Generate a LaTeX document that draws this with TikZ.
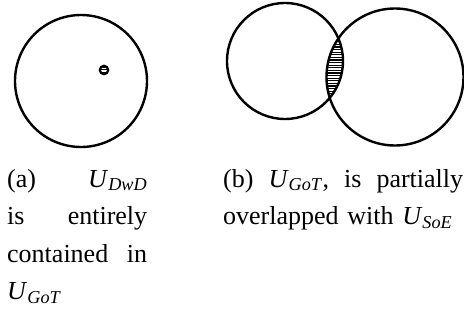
\documentclass[tikz,border=0pt]{standalone}
\usepackage{fontspec}
\setmainfont{Liberation Serif}
\newcommand{\usub}[2]{\textit{#1}\textsubscript{\textit{#2}}}

\begin{document}
\begin{tikzpicture}[x=1pt, y=1pt,
  set/.style={line width=2.4pt},
  hatch/.style={line width=1.1pt},
  caption/.style={anchor=base west, inner sep=0pt, font=\fontsize{26}{37.5}\selectfont},
]
\useasboundingbox (0,0) rectangle (464,325);

% === (a) ONE SET INSIDE THE OTHER ===
\draw[set] (81,244) circle[radius=66];
\begin{scope}
  \clip (104,255) circle[radius=4.2];
  \foreach \y in {249.5,252.3,...,261}
    \draw[hatch] (99,\y) -- (109,\y);
\end{scope}
\draw[line width=2.2pt] (104,255) circle[radius=4.2];

\node[caption, text width=140pt] (capta) at (7,138)
  {(a)\hfill\usub{U}{DwD}\\ is\hfill entirely\\ contained\hfill in\\ \usub{U}{GoT}};

% === (b) TWO SETS OVERLAPPING ===
\begin{scope}
  \clip (285,264) circle[radius=58];
  \clip (395,248) circle[radius=68.5];
  \foreach \y in {226,228.6,...,290}
    \draw[hatch] (315,\y) -- (350,\y);
\end{scope}
\draw[set] (285,264) circle[radius=58];
\draw[set] (395,248) circle[radius=68.5];

\node[caption, text width=240pt] (captb) at (223,138)
  {(b)\hfill\usub{U}{GoT},\hfill is\hfill partially\\ overlapped with \usub{U}{SoE}};
\end{tikzpicture}
\end{document}
